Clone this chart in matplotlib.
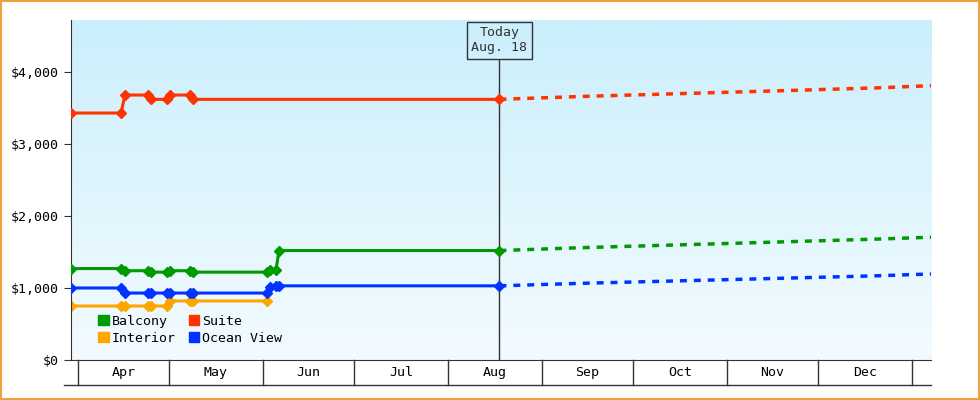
import matplotlib.pyplot as plt
import matplotlib.patches as mpatches
import matplotlib.transforms as mtransforms
from matplotlib.colors import LinearSegmentedColormap
import numpy as np

# days of year (Apr 1 = 91)
month_starts = [91, 121, 152, 182, 213, 244, 274, 305, 335, 366]
month_labels = ["Apr", "May", "Jun", "Jul", "Aug", "Sep", "Oct", "Nov", "Dec"]

suite_days = [88.7, 105.2, 106.5, 114.1, 115.1, 120.3, 121.3, 127.9, 128.9, 230]
suite_vals = [3430, 3430, 3680, 3680, 3620, 3620, 3680, 3680, 3620, 3620]

balcony_days = [88.7, 105.2, 106.5, 114.1, 115.1, 120.3, 121.3, 127.9, 128.9, 153.3, 154.3, 156.3, 157.3, 230]
balcony_vals = [1270, 1270, 1240, 1240, 1220, 1220, 1240, 1240, 1220, 1220, 1250, 1250, 1520, 1520]

ocean_days = [88.7, 105.2, 106.5, 114.1, 115.1, 120.3, 121.3, 127.9, 128.9, 153.3, 154.3, 156.3, 157.3, 230]
ocean_vals = [1000, 1000, 930, 930, 930, 930, 930, 930, 930, 930, 1010, 1030, 1030, 1030]

interior_days = [88.7, 105.2, 106.5, 114.1, 115.1, 120.3, 121.3, 127.9, 128.9, 153.3]
interior_vals = [750, 750, 750, 750, 750, 750, 820, 820, 820, 820]

fc_days = [230, 257, 290, 323, 355, 372.3]
suite_fc = [3620, 3660, 3700, 3740, 3780, 3810]
balcony_fc = [1520, 1560, 1600, 1640, 1680, 1705]
ocean_fc = [1030, 1065, 1100, 1135, 1170, 1195]

today = 230

RED, GREEN, ORANGE, BLUE = "#ff3300", "#009900", "#ffa500", "#0033ff"
plt.rcParams["font.family"] = "DejaVu Sans Mono"

fig = plt.figure(figsize=(9.8, 4), dpi=100)
fig.patches.append(mpatches.Rectangle((0.001, 0.002), 0.998, 0.996, transform=fig.transFigure,
                                      fill=False, edgecolor="#f0a040", lw=1.5))
ax = fig.add_axes([71 / 980, 40 / 400, 860 / 980, 340 / 400])
ax.set_xlim(88.7, 372.3)
ax.set_ylim(0, 4722)

# gradient background
grad = np.linspace(0, 1, 256).reshape(-1, 1)
cmap = LinearSegmentedColormap.from_list("bg", ["#f3fbff", "#cbeffc"])
ax.imshow(grad, aspect="auto", cmap=cmap, origin="lower", extent=[88.7, 372.3, 0, 4722], zorder=0)

for d, v, fd, c in [(suite_days, suite_vals, suite_fc, RED),
                    (balcony_days, balcony_vals, balcony_fc, GREEN),
                    (ocean_days, ocean_vals, ocean_fc, BLUE)]:
    ax.plot(d, v, color=c, lw=2.2, marker="D", ms=5, zorder=3)
    ax.plot(fc_days, fd, color=c, lw=2.5, ls=(0, (2, 2)), zorder=3)
ax.plot(interior_days, interior_vals, color=ORANGE, lw=2.2, marker="D", ms=5, zorder=2)

# today line and label
ax.plot([today, today], [0, 4160], color="#333333", lw=1, zorder=2)
ax.text(today, 4440, "Today\nAug. 18", ha="center", va="center", fontsize=9.5, color="#333333",
        bbox=dict(boxstyle="square,pad=0.35", fc="none", ec="#333333", lw=1), zorder=4)

# axes style
for s in ["top", "right"]:
    ax.spines[s].set_visible(False)
ax.spines["left"].set_color("#333333")
ax.spines["bottom"].set_color("#333333")
yt = [0, 1000, 2000, 3000, 4000]
ax.set_yticks(yt)
ax.set_yticklabels(["${:,}".format(v) for v in yt], fontsize=9.5)
ax.tick_params(axis="y", length=5, color="#333333")

# month band below the axis
trans = mtransforms.blended_transform_factory(ax.transData, ax.transAxes)
ax.set_xticks([])
h = -25 / 340
for m in month_starts:
    ax.plot([m, m], [0, h], color="#333333", lw=1, transform=trans, clip_on=False)
ax.plot([86.5, 372.3], [h, h], color="#333333", lw=1, transform=trans, clip_on=False)
for i, lab in enumerate(month_labels):
    ax.text((month_starts[i] + month_starts[i + 1]) / 2, h / 2, lab, ha="center", va="center",
            fontsize=9.5, transform=trans)

handles = [mpatches.Patch(color=GREEN, label="Balcony"), mpatches.Patch(color=ORANGE, label="Interior"),
           mpatches.Patch(color=RED, label="Suite"), mpatches.Patch(color=BLUE, label="Ocean View")]
ax.legend(handles=handles, ncol=2, loc="lower left", bbox_to_anchor=(0.018, 0.01), frameon=False,
          fontsize=9.5, handlelength=0.8, handleheight=0.8, handletextpad=0.2, columnspacing=1.0,
          labelspacing=0.3)

fig.savefig("out.png")
